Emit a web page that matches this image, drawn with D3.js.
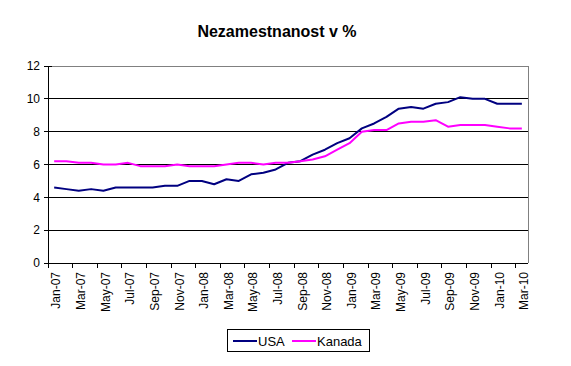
<!DOCTYPE html>
<html>
<head>
<meta charset="utf-8">
<script src="https://cdn.jsdelivr.net/npm/d3@7"></script>
<style>
  body { margin: 0; background: #fff; }
  svg text { font-family: Arial, "Liberation Sans", sans-serif; }
</style>
</head>
<body>
<svg id="chart" width="571" height="366"></svg>
<script>
// month categories Jan-07 .. Mar-10
const months = [
    "Jan-07", "Feb-07", "Mar-07", "Apr-07", "May-07", "Jun-07", "Jul-07", "Aug-07", "Sep-07", "Oct-07", "Nov-07", "Dec-07",
    "Jan-08", "Feb-08", "Mar-08", "Apr-08", "May-08", "Jun-08", "Jul-08", "Aug-08", "Sep-08", "Oct-08", "Nov-08", "Dec-08",
    "Jan-09", "Feb-09", "Mar-09", "Apr-09", "May-09", "Jun-09", "Jul-09", "Aug-09", "Sep-09", "Oct-09", "Nov-09", "Dec-09",
    "Jan-10", "Feb-10", "Mar-10"
];

const usa = [
    4.6, 4.5, 4.4, 4.5, 4.4, 4.6, 4.6, 4.6, 4.6, 4.7, 4.7, 5.0,
    5.0, 4.8, 5.1, 5.0, 5.4, 5.5, 5.7, 6.1, 6.2, 6.6, 6.9, 7.3,
    7.6, 8.2, 8.5, 8.9, 9.4, 9.5, 9.4, 9.7, 9.8, 10.1, 10.0, 10.0,
    9.7, 9.7, 9.7
];

const kanada = [
    6.2, 6.2, 6.1, 6.1, 6.0, 6.0, 6.1, 5.9, 5.9, 5.9, 6.0, 5.9,
    5.9, 5.9, 6.0, 6.1, 6.1, 6.0, 6.1, 6.1, 6.2, 6.3, 6.5, 6.9,
    7.3, 8.0, 8.1, 8.1, 8.5, 8.6, 8.6, 8.7, 8.3, 8.4, 8.4, 8.4,
    8.3, 8.2, 8.2
];

const yTicks = [0, 2, 4, 6, 8, 10, 12];

const series = [
    { name: "USA", values: usa, color: "#000080" },
    { name: "Kanada", values: kanada, color: "#ff00ff" }
];

const svg = d3.select("#chart");

const plotLeft = 48, plotRight = 528, plotTop = 66, plotBottom = 263;

const x = d3.scaleBand().domain(months).range([plotLeft, plotRight]).padding(0);
const y = d3.scaleLinear().domain([0, 12]).range([plotBottom, plotTop]);
const bw = x.bandwidth();

// title
svg.append("text")
    .attr("x", 277)
    .attr("y", 37)
    .attr("text-anchor", "middle")
    .style("font-size", "16px")
    .style("font-weight", "bold")
    .text("Nezamestnanost v %");

// gridlines
svg.append("g")
    .selectAll("line")
    .data(yTicks.filter(d => d > 0 && d < 12))
    .enter()
    .append("line")
    .attr("x1", plotLeft)
    .attr("x2", plotRight)
    .attr("y1", d => y(d))
    .attr("y2", d => y(d))
    .attr("stroke", "#000")
    .attr("stroke-width", 1)
    .attr("shape-rendering", "crispEdges");

// plot area border (top + right grey)
svg.append("path")
    .attr("d", `M${plotLeft},${y(12)}H${plotRight}V${plotBottom}`)
    .attr("fill", "none")
    .attr("stroke", "#808080")
    .attr("shape-rendering", "crispEdges");

// y axis
const yAxis = svg.append("g");
yAxis.append("line")
    .attr("x1", plotLeft).attr("x2", plotLeft)
    .attr("y1", plotTop).attr("y2", plotBottom)
    .attr("stroke", "#000")
    .attr("shape-rendering", "crispEdges");

yAxis.selectAll(".tick")
    .data(yTicks)
    .enter()
    .append("line")
    .attr("x1", plotLeft - 4)
    .attr("x2", plotLeft + 4)
    .attr("y1", d => y(d))
    .attr("y2", d => y(d))
    .attr("stroke", "#000")
    .attr("shape-rendering", "crispEdges");

yAxis.selectAll("text")
    .data(yTicks)
    .enter()
    .append("text")
    .attr("x", 40)
    .attr("y", d => y(d))
    .attr("dy", "0.36em")
    .attr("text-anchor", "end")
    .style("font-size", "12px")
    .text(d => d);

// x axis
const xAxis = svg.append("g");
xAxis.append("line")
    .attr("x1", plotLeft).attr("x2", plotRight)
    .attr("y1", plotBottom).attr("y2", plotBottom)
    .attr("stroke", "#000")
    .attr("shape-rendering", "crispEdges");

const labelled = months.filter((d, i) => i % 2 === 0);

xAxis.selectAll(".tick")
    .data(labelled)
    .enter()
    .append("line")
    .attr("x1", d => x(d))
    .attr("x2", d => x(d))
    .attr("y1", plotBottom)
    .attr("y2", plotBottom + 5)
    .attr("stroke", "#000")
    .attr("shape-rendering", "crispEdges");

xAxis.selectAll("text")
    .data(labelled)
    .enter()
    .append("text")
    .attr("transform", d => `translate(${x(d) + bw / 2 + 2}, 272) rotate(-90)`)
    .attr("dy", "0.36em")
    .attr("text-anchor", "end")
    .style("font-size", "12px")
    .text(d => d);

// lines
const line = d3.line()
    .x((d, i) => x(months[i]) + bw / 2)
    .y(d => y(d));

svg.append("g")
    .selectAll("path")
    .data(series)
    .enter()
    .append("path")
    .attr("d", d => line(d.values))
    .attr("fill", "none")
    .attr("stroke", d => d.color)
    .attr("stroke-width", 2)
    .attr("stroke-linejoin", "round");

// legend
const legend = svg.append("g");
legend.append("rect")
    .attr("x", 227.5)
    .attr("y", 329.5)
    .attr("width", 142)
    .attr("height", 22)
    .attr("fill", "#fff")
    .attr("stroke", "#000");

const legendX = [233, 292];
const item = legend.selectAll(".item")
    .data(series)
    .enter()
    .append("g")
    .attr("transform", (d, i) => `translate(${legendX[i]}, 341)`);

item.append("line")
    .attr("x1", 0).attr("x2", 24)
    .attr("y1", 0).attr("y2", 0)
    .attr("stroke", d => d.color)
    .attr("stroke-width", 2);

item.append("text")
    .attr("x", 25)
    .attr("y", 0)
    .attr("dy", "0.36em")
    .style("font-size", "13px")
    .text(d => d.name);
</script>
</body>
</html>
